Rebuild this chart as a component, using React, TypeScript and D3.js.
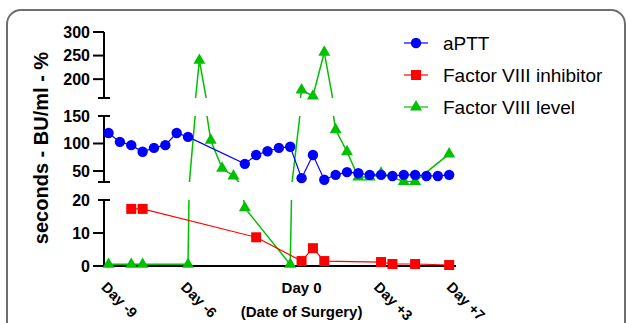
import * as d3 from 'd3';

// x positions are sample indices (evenly spaced in the original plot)
const aPTTx = [0, 1, 2, 3, 4, 5, 6, 7, 12, 13, 14, 15, 16, 17, 18, 19, 20, 21, 22, 23, 24, 25, 26, 27, 28, 29, 30];
const aPTT = [119, 103, 97, 85, 92, 97, 119, 112, 63, 79, 86, 92, 94, 37, 79, 34, 43, 48, 46, 43, 43, 41, 43, 43, 41, 41, 43];

const inhibX = [2, 3, 13, 17, 18, 19, 24, 25, 27, 30];
const inhib = [17.3, 17.3, 8.7, 1.5, 5.4, 1.5, 1.2, 0.6, 0.6, 0.3];

const f8x = [0, 2, 3, 7, 8, 9, 10, 11, 12, 16, 17, 18, 19, 20, 21, 22, 23, 24, 26, 27, 30];
const f8 = [0.5, 0.5, 0.5, 0.5, 240, 106, 55, 41, 17.6, 0.5, 177, 164, 257, 125, 85, 39, 39, 46, 31, 31, 81];

const tickIdx = [0, 7, 17, 24, 30.4];
const tickLabels = ['Day -9', 'Day -6', 'Day 0', 'Day +3', 'Day +7'];

const topTicks = [200, 250, 300];
const midTicks = [50, 100, 150];
const botTicks = [0, 10, 20];

const FONT = '"Liberation Sans", Arial, sans-serif';
const axisX = 104;

const x = d3.scaleLinear([-0.4, 30.6], [104, 456]);

const segments = [
  { y: d3.scaleLinear([160, 300], [98, 32]), ticks: topTicks, capTop: false, capBottom: true },
  { y: d3.scaleLinear([30, 150], [182, 116]), ticks: midTicks, capTop: true, capBottom: true },
  { y: d3.scaleLinear([0, 20], [266, 200]), ticks: botTicks, capTop: true, capBottom: false },
];

const series = [
  { name: 'aPTT', xs: aPTTx, vs: aPTT, color: '#0000ff', shape: 'circle', lw: 1.2 },
  { name: 'Factor VIII inhibitor', xs: inhibX, vs: inhib, color: '#ff0000', shape: 'square', lw: 1.2 },
  { name: 'Factor VIII level', xs: f8x, vs: f8, color: '#00c000', shape: 'triangle', lw: 1.5 },
];
// first series ends up on top, like the original
const drawOrder = [...series].reverse();

const triPath = d3.symbol(d3.symbolTriangle, 62)();

function Marker({ shape, cx, cy, color }) {
  if (shape === 'circle') return <circle cx={cx} cy={cy} r={5.2} fill={color} />;
  if (shape === 'square') return <rect x={cx - 5} y={cy - 5} width={10} height={10} fill={color} />;
  return <path d={triPath} transform={`translate(${cx},${cy})`} fill={color} />;
}

export default function App() {
  return (
    <svg width={626} height={323} style={{ position: 'absolute', left: 0, top: 0, background: '#fff' }} fontFamily={FONT}>
      <rect x={7} y={10} width={618} height={360} rx={14} fill="none" stroke="#6e6e6e" strokeWidth={2} />
      <defs>
        {segments.map((s, i) => {
          const [y0, y1] = s.y.range();
          return (
            <clipPath id={`seg${i}`} key={i}>
              <rect x={axisX} y={y1} width={360} height={y0 - y1} />
            </clipPath>
          );
        })}
      </defs>

      {/* y axis segments */}
      {segments.map((s, i) => {
        const [y0, y1] = s.y.range();
        return (
          <g key={i} stroke="#000" strokeWidth={2}>
            <line x1={axisX} x2={axisX} y1={y0} y2={y1} />
            {s.ticks.map((t) => (
              <g key={t}>
                {!(s.capTop && t === s.y.domain()[1]) && (
                  <line x1={axisX - 11} x2={axisX} y1={s.y(t)} y2={s.y(t)} />
                )}
                <text x={90} y={s.y(t)} dy="0.36em" textAnchor="end" stroke="none" fill="#000" fontSize={16} fontWeight="bold">
                  {t}
                </text>
              </g>
            ))}
            {s.capTop && <line x1={axisX - 6} x2={axisX + 6} y1={y1} y2={y1} />}
            {s.capBottom && <line x1={axisX - 6} x2={axisX + 6} y1={y0} y2={y0} />}
          </g>
        );
      })}

      {/* x axis */}
      <line x1={axisX - 1} x2={456} y1={266} y2={266} stroke="#000" strokeWidth={2} />
      {tickIdx.map((t, i) =>
        tickLabels[i] === 'Day 0' ? (
          <text key={i} x={x(t)} y={293} textAnchor="middle" fontSize={15} fontWeight="bold">
            {tickLabels[i]}
          </text>
        ) : (
          <text key={i} transform={`translate(${x(t) - 8},288) rotate(45)`} fontSize={14.5} fontWeight="bold">
            {tickLabels[i]}
          </text>
        )
      )}
      <text x={x(17)} y={317} textAnchor="middle" fontSize={15} fontWeight="bold">(Date of Surgery)</text>

      <text transform="translate(48,148) rotate(-90)" textAnchor="middle" fontSize={20} fontWeight="bold">
        seconds - BU/ml - %
      </text>

      {/* series lines, drawn per segment and clipped */}
      {segments.map((s, i) => (
        <g key={i} clipPath={`url(#seg${i})`}>
          {drawOrder.map((se) => {
            const pts = se.xs.map((xi, j) => [x(xi), s.y(se.vs[j])]);
            return <path key={se.name} d={d3.line()(pts)} fill="none" stroke={se.color} strokeWidth={se.lw} />;
          })}
        </g>
      ))}

      {/* markers, in the segment whose domain holds the value */}
      {drawOrder.map((se) =>
        se.xs.map((xi, j) => {
          const v = se.vs[j];
          const s = segments.find((sg) => v >= sg.y.domain()[0] && v <= sg.y.domain()[1]);
          if (!s) return null;
          return <Marker key={se.name + j} shape={se.shape} cx={x(xi)} cy={s.y(v)} color={se.color} />;
        })
      )}

      {/* legend */}
      {series.map((se, i) => {
        const cy = 43 + i * 32;
        return (
          <g key={se.name}>
            <line x1={404} x2={428} y1={cy} y2={cy} stroke={se.color} strokeWidth={1.2} />
            <Marker shape={se.shape} cx={416} cy={cy} color={se.color} />
            <text x={443} y={cy} dy="0.35em" fontSize={19}>{se.name}</text>
          </g>
        );
      })}
    </svg>
  );
}
